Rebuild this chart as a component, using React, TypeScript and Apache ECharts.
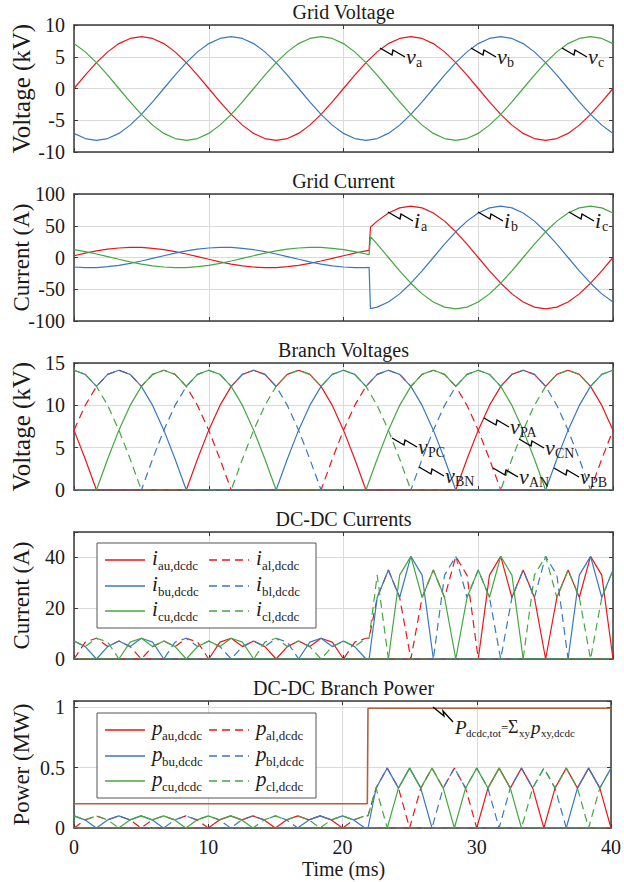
import React, { useEffect, useRef } from "react";
import * as echarts from "echarts";

const FONT = "Liberation Serif, Times New Roman, serif";
const RED = "#e8161b";
const BLUE = "#3779c0";
const GREEN = "#42a83f";
const BROWN = "#b0623a";
const INK = "#1a1a1a";

// ---------- time grids (ms) ----------
const TIME_V = [0,0.833,1.667,2.5,3.333,4.167,5,5.833,6.667,7.5,8.333,9.167,10,10.833,11.667,12.5,13.333,14.167,15,15.833,16.667,17.5,18.333,19.167,20,20.833,21.667,22.5,23.333,24.167,25,25.833,26.667,27.5,28.333,29.167,30,30.833,31.667,32.5,33.333,34.167,35,35.833,36.667,37.5,38.333,39.167,40];
const TIME_I = [0,0.833,1.667,2.5,3.333,4.167,5,5.833,6.667,7.5,8.333,9.167,10,10.833,11.667,12.5,13.333,14.167,15,15.833,16.667,17.5,18.333,19.167,20,20.833,21.667,21.9,22.0,22.5,23.333,24.167,25,25.833,26.667,27.5,28.333,29.167,30,30.833,31.667,32.5,33.333,34.167,35,35.833,36.667,37.5,38.333,39.167,40];
const TIME_D = [0,0.833,1.667,2.5,3.333,4.167,5,5.833,6.667,7.5,8.333,9.167,10,10.833,11.667,12.5,13.333,14.167,15,15.833,16.667,17.5,18.333,19.167,20,20.833,21.667,21.9,22.5,23.333,24.167,25,25.833,26.667,27.5,28.333,29.167,30,30.833,31.667,32.5,33.333,34.167,35,35.833,36.667,37.5,38.333,39.167,40];
const TIME_P = [0, 21.85, 21.9, 40];

// ---------- Grid voltage (kV) ----------
const V_A = [0,2.11,4.08,5.77,7.07,7.88,8.16,7.88,7.07,5.77,4.08,2.11,0,-2.11,-4.08,-5.77,-7.07,-7.88,-8.16,-7.88,-7.07,-5.77,-4.08,-2.11,0,2.11,4.08,5.77,7.07,7.88,8.16,7.88,7.07,5.77,4.08,2.11,0,-2.11,-4.08,-5.77,-7.07,-7.88,-8.16,-7.88,-7.07,-5.77,-4.08,-2.11,0];
const V_B = [-7.07,-7.88,-8.16,-7.88,-7.07,-5.77,-4.08,-2.11,0,2.11,4.08,5.77,7.07,7.88,8.16,7.88,7.07,5.77,4.08,2.11,0,-2.11,-4.08,-5.77,-7.07,-7.88,-8.16,-7.88,-7.07,-5.77,-4.08,-2.11,0,2.11,4.08,5.77,7.07,7.88,8.16,7.88,7.07,5.77,4.08,2.11,0,-2.11,-4.08,-5.77,-7.07];
const V_C = [7.07,5.77,4.08,2.11,0,-2.11,-4.08,-5.77,-7.07,-7.88,-8.16,-7.88,-7.07,-5.77,-4.08,-2.11,0,2.11,4.08,5.77,7.07,7.88,8.16,7.88,7.07,5.77,4.08,2.11,0,-2.11,-4.08,-5.77,-7.07,-7.88,-8.16,-7.88,-7.07,-5.77,-4.08,-2.11,0,2.11,4.08,5.77,7.07,7.88,8.16,7.88,7.07];

// ---------- Grid current (A) ----------
const I_A = [2.8,6.8,10.3,13.1,15.0,15.9,15.8,14.5,12.3,9.2,5.5,1.4,-2.8,-6.8,-10.3,-13.1,-15.0,-15.9,-15.8,-14.5,-12.3,-9.2,-5.5,-1.4,2.8,6.8,10.3,11.2,47.6,57.3,70.1,78.2,81,78.2,70.1,57.3,40.5,21.0,0,-21.0,-40.5,-57.3,-70.1,-78.2,-81,-78.2,-70.1,-57.3,-40.5,-21.0,0];
const I_B = [-15.0,-15.9,-15.8,-14.5,-12.3,-9.2,-5.5,-1.4,2.8,6.8,10.3,13.1,15.0,15.9,15.8,14.5,12.3,9.2,5.5,1.4,-2.8,-6.8,-10.3,-13.1,-15.0,-15.9,-15.8,-15.5,-80.6,-78.2,-70.1,-57.3,-40.5,-21.0,0,21.0,40.5,57.3,70.1,78.2,81,78.2,70.1,57.3,40.5,21.0,0,-21.0,-40.5,-57.3,-70.1];
const I_C = [12.3,9.2,5.5,1.4,-2.8,-6.8,-10.3,-13.1,-15.0,-15.9,-15.8,-14.5,-12.3,-9.2,-5.5,-1.4,2.8,6.8,10.3,13.1,15.0,15.9,15.8,14.5,12.3,9.2,5.5,4.4,32.9,21.0,0,-21.0,-40.5,-57.3,-70.1,-78.2,-81,-78.2,-70.1,-57.3,-40.5,-21.0,0,21.0,40.5,57.3,70.1,78.2,81,78.2,70.1];

// ---------- Branch voltages (kV) ----------
const V_PA = [7.07,3.66,0,0,0,0,0,0,0,0,0,3.66,7.07,9.99,12.24,13.65,14.14,13.65,12.24,13.65,14.14,13.65,12.24,9.99,7.07,3.66,0,0,0,0,0,0,0,0,0,3.66,7.07,9.99,12.24,13.65,14.14,13.65,12.24,13.65,14.14,13.65,12.24,9.99,7.07];
const V_AN = [7.07,9.99,12.24,13.65,14.14,13.65,12.24,13.65,14.14,13.65,12.24,9.99,7.07,3.66,0,0,0,0,0,0,0,0,0,3.66,7.07,9.99,12.24,13.65,14.14,13.65,12.24,13.65,14.14,13.65,12.24,9.99,7.07,3.66,0,0,0,0,0,0,0,0,0,3.66,7.07];
const V_PB = [14.14,13.65,12.24,13.65,14.14,13.65,12.24,9.99,7.07,3.66,0,0,0,0,0,0,0,0,0,3.66,7.07,9.99,12.24,13.65,14.14,13.65,12.24,13.65,14.14,13.65,12.24,9.99,7.07,3.66,0,0,0,0,0,0,0,0,0,3.66,7.07,9.99,12.24,13.65,14.14];
const V_BN = [0,0,0,0,0,0,0,3.66,7.07,9.99,12.24,13.65,14.14,13.65,12.24,13.65,14.14,13.65,12.24,9.99,7.07,3.66,0,0,0,0,0,0,0,0,0,3.66,7.07,9.99,12.24,13.65,14.14,13.65,12.24,13.65,14.14,13.65,12.24,9.99,7.07,3.66,0,0,0];
const V_PC = [0,0,0,3.66,7.07,9.99,12.24,13.65,14.14,13.65,12.24,13.65,14.14,13.65,12.24,9.99,7.07,3.66,0,0,0,0,0,0,0,0,0,3.66,7.07,9.99,12.24,13.65,14.14,13.65,12.24,13.65,14.14,13.65,12.24,9.99,7.07,3.66,0,0,0,0,0,0,0];
const V_CN = [14.14,13.65,12.24,9.99,7.07,3.66,0,0,0,0,0,0,0,0,0,3.66,7.07,9.99,12.24,13.65,14.14,13.65,12.24,13.65,14.14,13.65,12.24,9.99,7.07,3.66,0,0,0,0,0,0,0,0,0,3.66,7.07,9.99,12.24,13.65,14.14,13.65,12.24,13.65,14.14];

// ---------- DC-DC currents (A) ----------
const I_AU = [0,0,0,0,0,0,0,0,0,0,0,0,0,6.67,8.17,4.88,7.07,4.88,0,4.88,7.07,4.88,8.17,6.67,0,0,0,0,0,0,0,0,0,0,0,0,0,0,33,40.4,24.2,35,24.2,0,24.2,35,24.2,40.4,33,0];
const I_AL = [0,6.67,8.17,4.88,7.07,4.88,0,4.88,7.07,4.88,8.17,6.67,0,0,0,0,0,0,0,0,0,0,0,0,0,6.67,8.17,8.17,24.2,35,24.2,0,24.2,35,24.2,40.4,33,0,0,0,0,0,0,0,0,0,0,0,0,0];
const I_BU = [7.07,4.88,0,4.88,7.07,4.88,8.17,6.67,0,0,0,0,0,0,0,0,0,0,0,0,0,6.67,8.17,4.88,7.07,4.88,0,0,24.2,35,24.2,40.4,33,0,0,0,0,0,0,0,0,0,0,0,0,0,33,40.4,24.2,35];
const I_BL = [0,0,0,0,0,0,0,0,0,6.67,8.17,4.88,7.07,4.88,0,4.88,7.07,4.88,8.17,6.67,0,0,0,0,0,0,0,0,0,0,0,0,0,0,33,40.4,24.2,35,24.2,0,24.2,35,24.2,40.4,33,0,0,0,0,0];
const I_CU = [0,0,0,0,0,6.67,8.17,4.88,7.07,4.88,0,4.88,7.07,4.88,8.17,6.67,0,0,0,0,0,0,0,0,0,0,0,0,0,0,33,40.4,24.2,35,24.2,0,24.2,35,24.2,40.4,33,0,0,0,0,0,0,0,0,0];
const I_CL = [7.07,4.88,8.17,6.67,0,0,0,0,0,0,0,0,0,0,0,0,0,6.67,8.17,4.88,7.07,4.88,0,4.88,7.07,4.88,8.17,8.17,33,0,0,0,0,0,0,0,0,0,0,0,0,0,33,40.4,24.2,35,24.2,0,24.2,35];

// ---------- DC-DC branch power (MW) ----------
const P_AU = [0,0,0,0,0,0,0,0,0,0,0,0,0,0.067,0.1,0.067,0.1,0.067,0,0.067,0.1,0.067,0.1,0.067,0,0,0,0,0,0,0,0,0,0,0,0,0,0,0.33,0.495,0.33,0.495,0.33,0,0.33,0.495,0.33,0.495,0.33,0];
const P_AL = [0,0.067,0.1,0.067,0.1,0.067,0,0.067,0.1,0.067,0.1,0.067,0,0,0,0,0,0,0,0,0,0,0,0,0,0.067,0.1,0.1,0.33,0.495,0.33,0,0.33,0.495,0.33,0.495,0.33,0,0,0,0,0,0,0,0,0,0,0,0,0];
const P_BU = [0.1,0.067,0,0.067,0.1,0.067,0.1,0.067,0,0,0,0,0,0,0,0,0,0,0,0,0,0.067,0.1,0.067,0.1,0.067,0,0,0.33,0.495,0.33,0.495,0.33,0,0,0,0,0,0,0,0,0,0,0,0,0,0.33,0.495,0.33,0.495];
const P_BL = [0,0,0,0,0,0,0,0,0,0.067,0.1,0.067,0.1,0.067,0,0.067,0.1,0.067,0.1,0.067,0,0,0,0,0,0,0,0,0,0,0,0,0,0,0.33,0.495,0.33,0.495,0.33,0,0.33,0.495,0.33,0.495,0.33,0,0,0,0,0];
const P_CU = [0,0,0,0,0,0.067,0.1,0.067,0.1,0.067,0,0.067,0.1,0.067,0.1,0.067,0,0,0,0,0,0,0,0,0,0,0,0,0,0,0.33,0.495,0.33,0.495,0.33,0,0.33,0.495,0.33,0.495,0.33,0,0,0,0,0,0,0,0,0];
const P_CL = [0.1,0.067,0.1,0.067,0,0,0,0,0,0,0,0,0,0,0,0,0,0.067,0.1,0.067,0.1,0.067,0,0.067,0.1,0.067,0.1,0.1,0.33,0,0,0,0,0,0,0,0,0,0,0,0,0,0.33,0.495,0.33,0.495,0.33,0,0.33,0.495];
const P_TOT = [0.2, 0.2, 0.99, 0.99];

// ---------- labels ----------
const TITLES = ["Grid Voltage", "Grid Current", "Branch Voltages", "DC-DC Currents", "DC-DC Branch Power"];
const Y_NAMES = ["Voltage (kV)", "Current (A)", "Voltage (kV)", "Current (A)", "Power (MW)"];
const X_NAME = "Time (ms)";
const LEGEND_SUBS = [["au,dcdc", "al,dcdc"], ["bu,dcdc", "bl,dcdc"], ["cu,dcdc", "cl,dcdc"]];

// layout
const LEFT = 74;
const RIGHT_EDGE = 613;
const TOPS = [25, 194, 363, 532, 701];
const H = 127;
const CX = (LEFT + RIGHT_EDGE) / 2;

const Y_RANGES = [
  { min: -10, max: 10, interval: 5 },
  { min: -100, max: 100, interval: 50 },
  { min: 0, max: 15, interval: 5 },
  { min: 0, max: 50, interval: 20 },
  { min: 0, max: 1.05, interval: 0.5 },
];

const mk = (xs: number[], ys: number[]) => xs.map((x, i) => [x, ys[i]]);

function line(xs: number[], ys: number[], color: string, dashed: boolean, gi: number, width = 1.2) {
  return {
    type: "line",
    xAxisIndex: gi,
    yAxisIndex: gi,
    data: mk(xs, ys),
    showSymbol: false,
    symbol: "none",
    silent: true,
    clip: true,
    lineStyle: { color, width, type: dashed ? [8, 5] : "solid" },
    itemStyle: { color },
    z: 3,
  };
}

function txt(x: number, y: number, text: string, size: number, extra: any = {}) {
  return {
    type: "text",
    x,
    y,
    silent: true,
    z: 50,
    rotation: extra.rotation || 0,
    style: {
      text,
      fontSize: size,
      fontFamily: FONT,
      fontStyle: extra.italic ? "italic" : "normal",
      fill: INK,
      textAlign: extra.align || "left",
      textVerticalAlign: "middle",
    },
  };
}

function bolt(x0: number, y0: number) {
  return {
    type: "polyline",
    silent: true,
    z: 50,
    shape: { points: [[x0, y0], [x0 + 12, y0 + 7], [x0 + 13, y0 + 2], [x0 + 25, y0 + 9]] },
    style: { stroke: "#000", lineWidth: 1.4, fill: null },
  };
}

function anno(x0: number, y0: number, main: string, sub: string) {
  const subDx = main === "i" ? 33 : 36;
  return [
    bolt(x0, y0),
    txt(x0 + 26, y0 + 8, main, 22, { italic: true }),
    txt(x0 + subDx, y0 + 14, sub, 14),
  ];
}

function legend(x: number, y: number, sym: string) {
  const els: any[] = [
    {
      type: "rect",
      silent: true,
      z: 40,
      shape: { x, y, width: 219, height: 85 },
      style: { fill: "#fff", stroke: "#555", lineWidth: 1 },
    },
  ];
  const rows = [17, 43, 68];
  const colors = [RED, BLUE, GREEN];
  const subDx = sym === "i" ? 53 : 57;
  rows.forEach((dy, r) => {
    [0, 1].forEach((c) => {
      const lx = x + (c === 0 ? 8 : 112);
      els.push({
        type: "line",
        silent: true,
        z: 45,
        shape: { x1: lx, y1: y + dy, x2: lx + 40, y2: y + dy },
        style: { stroke: colors[r], lineWidth: 1.3, lineDash: c === 1 ? [8, 5] : null },
      });
      els.push(txt(lx + 47, y + dy - 2, sym, 21, { italic: true }));
      els.push(txt(lx + subDx, y + dy + 5, LEGEND_SUBS[r][c], 13));
    });
  });
  return els;
}

export default function App() {
  const ref = useRef<HTMLDivElement>(null);
  useEffect(() => {
    if (!ref.current) return;
    const chart = echarts.init(ref.current, undefined, { renderer: "svg" });

    const grids = TOPS.map((top) => ({ left: LEFT, right: 624 - RIGHT_EDGE, top, height: H, show: false }));
    const axisLine = { show: true, onZero: false, lineStyle: { color: "#3a3a3a", width: 1.5 } };
    const tick = { show: true, inside: true, length: 4, lineStyle: { color: "#3a3a3a", width: 1 } };
    const split = { show: true, lineStyle: { color: "#dadada", width: 1 } };
    const labelStyle = { fontSize: 20, fontFamily: FONT, color: INK };

    const xAxis: any[] = [];
    const yAxis: any[] = [];
    for (let i = 0; i < 5; i++) {
      xAxis.push({
        gridIndex: i, type: "value", min: 0, max: 40, interval: 10, position: "bottom",
        axisLine, axisTick: tick, splitLine: split,
        axisLabel: { show: i === 4, margin: 9, ...labelStyle },
      });
      const yr = Y_RANGES[i];
      yAxis.push({
        gridIndex: i, type: "value", min: yr.min, max: yr.max, interval: yr.interval, position: "left",
        axisLine, axisTick: tick, splitLine: split,
        axisLabel: {
          margin: 9, ...labelStyle,
          formatter: (v: number) => (v > yr.max - 1e-9 && (i === 3 || i === 4) ? "" : String(v)),
        },
      });
    }
    for (let i = 0; i < 5; i++) {
      xAxis.push({
        gridIndex: i, type: "value", min: 0, max: 40, interval: 10, position: "top",
        axisLine, axisTick: tick, splitLine: { show: false }, axisLabel: { show: false },
      });
      const yr = Y_RANGES[i];
      yAxis.push({
        gridIndex: i, type: "value", min: yr.min, max: yr.max, interval: yr.interval, position: "right",
        axisLine, axisTick: tick, splitLine: { show: false }, axisLabel: { show: false },
      });
    }

    const series: any[] = [
      line(TIME_V, V_A, RED, false, 0),
      line(TIME_V, V_B, BLUE, false, 0),
      line(TIME_V, V_C, GREEN, false, 0),

      line(TIME_I, I_A, RED, false, 1),
      line(TIME_I, I_B, BLUE, false, 1),
      line(TIME_I, I_C, GREEN, false, 1),

      line(TIME_V, V_PA, RED, false, 2),
      line(TIME_V, V_AN, RED, true, 2),
      line(TIME_V, V_PB, BLUE, false, 2),
      line(TIME_V, V_BN, BLUE, true, 2),
      line(TIME_V, V_PC, GREEN, false, 2),
      line(TIME_V, V_CN, GREEN, true, 2),

      line(TIME_D, I_AU, RED, false, 3),
      line(TIME_D, I_AL, RED, true, 3),
      line(TIME_D, I_BU, BLUE, false, 3),
      line(TIME_D, I_BL, BLUE, true, 3),
      line(TIME_D, I_CU, GREEN, false, 3),
      line(TIME_D, I_CL, GREEN, true, 3),

      line(TIME_D, P_AU, RED, false, 4),
      line(TIME_D, P_AL, RED, true, 4),
      line(TIME_D, P_BU, BLUE, false, 4),
      line(TIME_D, P_BL, BLUE, true, 4),
      line(TIME_D, P_CU, GREEN, false, 4),
      line(TIME_D, P_CL, GREEN, true, 4),
      line(TIME_P, P_TOT, BROWN, false, 4, 1.6),
    ];

    const graphic: any[] = [];
    TITLES.forEach((t, i) => graphic.push(txt(CX, TOPS[i] - 13, t, 20, { align: "center" })));
    Y_NAMES.forEach((t, i) =>
      graphic.push(txt(21, TOPS[i] + H / 2, t, i === 0 || i === 2 ? 25 : 23, { align: "center", rotation: Math.PI / 2 }))
    );
    graphic.push(txt(CX, 869, X_NAME, 20, { align: "center" }));

    graphic.push(...anno(380, 48, "v", "a"), ...anno(471, 48, "v", "b"), ...anno(562, 48, "v", "c"));
    graphic.push(...anno(388, 212, "i", "a"), ...anno(478, 212, "i", "b"), ...anno(569, 212, "i", "c"));
    graphic.push(
      ...anno(484, 418, "v", "PA"),
      ...anno(392, 438, "v", "PC"),
      ...anno(419, 467, "v", "BN"),
      ...anno(519, 439, "v", "CN"),
      ...anno(493, 468, "v", "AN"),
      ...anno(554, 468, "v", "PB")
    );

    graphic.push(...legend(97, 543, "i"), ...legend(97, 713, "p"));

    graphic.push({
      type: "polyline", silent: true, z: 50,
      shape: { points: [[433, 707], [444, 716], [443, 711], [453, 722]] },
      style: { stroke: "#000", lineWidth: 1.3, fill: null },
    });
    graphic.push(
      txt(455, 727, "P", 19, { italic: true }),
      txt(466, 733, "dcdc,tot", 11),
      txt(501, 727, "=", 13),
      txt(508, 727, "Σ", 18),
      txt(519, 733, "xy", 11),
      txt(531, 727, "p", 19, { italic: true }),
      txt(541, 733, "xy,dcdc", 11)
    );

    chart.setOption({
      animation: false,
      backgroundColor: "#fff",
      grid: grids,
      xAxis,
      yAxis,
      series,
      graphic,
    });
    return () => chart.dispose();
  }, []);

  return (
    <div
      ref={ref}
      style={{ position: "absolute", left: 0, top: 0, width: 624, height: 882, background: "#fff" }}
    />
  );
}
